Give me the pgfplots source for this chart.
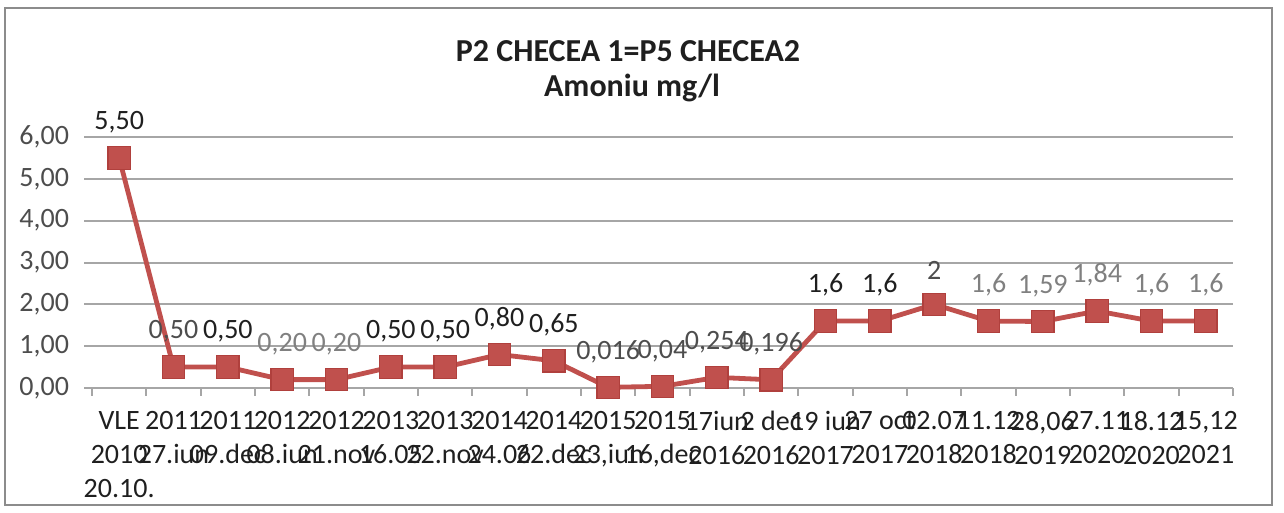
\documentclass[border=0pt]{standalone}
\usepackage{fontspec}
\setmainfont{Carlito}
\usepackage{pgfplots}
\pgfplotsset{compat=1.18}
\definecolor{exred}{HTML}{C0504D}
\definecolor{exedge}{HTML}{B0403D}
\definecolor{gridc}{HTML}{A6A6A6}
\definecolor{dk}{HTML}{1F1F1F}
\definecolor{md}{HTML}{4D4D4D}
\definecolor{lt}{HTML}{808080}
\begin{document}
\begin{tikzpicture}
\path[use as bounding box] (-46pt,-62.5pt) rectangle (596pt,194pt);
\draw[black!45, line width=1.3pt] (-43.5pt,-58.5pt) rectangle (590pt,190pt);
\begin{axis}[
 at={(0,0)}, anchor=south west,
 scale only axis, width=570.5pt, height=125.5pt,
 xmin=-0.5, xmax=20.5, ymin=0, ymax=6,
 clip=false,
 axis line style={draw=none},
 ytick={0,1,...,6},
 ymajorgrids, grid style={gridc, line width=1pt},
 xtick={-0.5,0.5,...,20.5}, xticklabels={},
 tick align=outside, xtick pos=bottom, ytick pos=left,
 major tick length=4pt,
 tick style={gridc, line width=1pt},
 /pgf/number format/assume math mode=true,
 yticklabel style={font=\fontsize{14}{16}\selectfont, text=md, xshift=-4pt,
   /pgf/number format/use comma, /pgf/number format/fixed,
   /pgf/number format/fixed zerofill, /pgf/number format/precision=2},
 xticklabel style={font=\fontsize{14}{17}\selectfont, align=center, text=dk, anchor=north, yshift=-8pt},
 extra x ticks={0,1,...,20},
 extra x tick labels={{VLE\\2010\\20.10.},{2011\\27.iun},{2011\\09.dec},{2012\\08.iun},{2012\\21.nov},{2013\\16.05},{2013\\22.nov},{2014\\24.06},{2014\\22.dec},{2015\\23,iun},{2015\\16,dec},{17iun\\2016},{2 dec\\2016},{19 iun\\2017},{27 oct\\2017},{02.07\\2018},{11.12\\2018},{28,06\\2019},{27.11\\2020},{18.12\\2020},{15,12\\2021}},
 extra x tick style={major tick length=0pt, grid=none},
]
\addplot[exred, line width=2.4pt, mark=square*, mark size=5.6pt,
  mark options={fill=exred, draw=exedge, line width=0.6pt},
  point meta=explicit symbolic, nodes near coords,
  every node near coord/.append style={font=\fontsize{14}{16}\selectfont, anchor=south, inner sep=0pt, yshift=12pt}]
coordinates {
(0,5.5) [\textcolor{dk}{5,50}]
(1,0.5) [\textcolor{md}{0,50}]
(2,0.5) [\textcolor{dk}{0,50}]
(3,0.2) [\textcolor{lt}{0,20}]
(4,0.2) [\textcolor{lt}{0,20}]
(5,0.5) [\textcolor{dk}{0,50}]
(6,0.5) [\textcolor{dk}{0,50}]
(7,0.8) [\textcolor{dk}{0,80}]
(8,0.65) [\textcolor{dk}{0,65}]
(9,0.016) [\textcolor{md}{0,016}]
(10,0.04) [\textcolor{md}{0,04}]
(11,0.254) [\textcolor{md}{0,254}]
(12,0.196) [\textcolor{md}{0,196}]
(13,1.6) [\textcolor{dk}{1,6}]
(14,1.6) [\textcolor{dk}{1,6}]
(15,2) [\textcolor{md}{2}]
(16,1.6) [\textcolor{lt}{1,6}]
(17,1.59) [\textcolor{lt}{1,59}]
(18,1.84) [\textcolor{lt}{1,84}]
(19,1.6) [\textcolor{lt}{1,6}]
(20,1.6) [\textcolor{lt}{1,6}]
};
\end{axis}
\node[font=\fontsize{16}{19}\selectfont\bfseries, text=dk, anchor=base] at (268pt,163pt) {P2 CHECEA 1=P5 CHECEA2};
\node[font=\fontsize{16}{19}\selectfont\bfseries, text=dk, anchor=base] at (270pt,145.5pt) {Amoniu mg/l};
\end{tikzpicture}
\end{document}
